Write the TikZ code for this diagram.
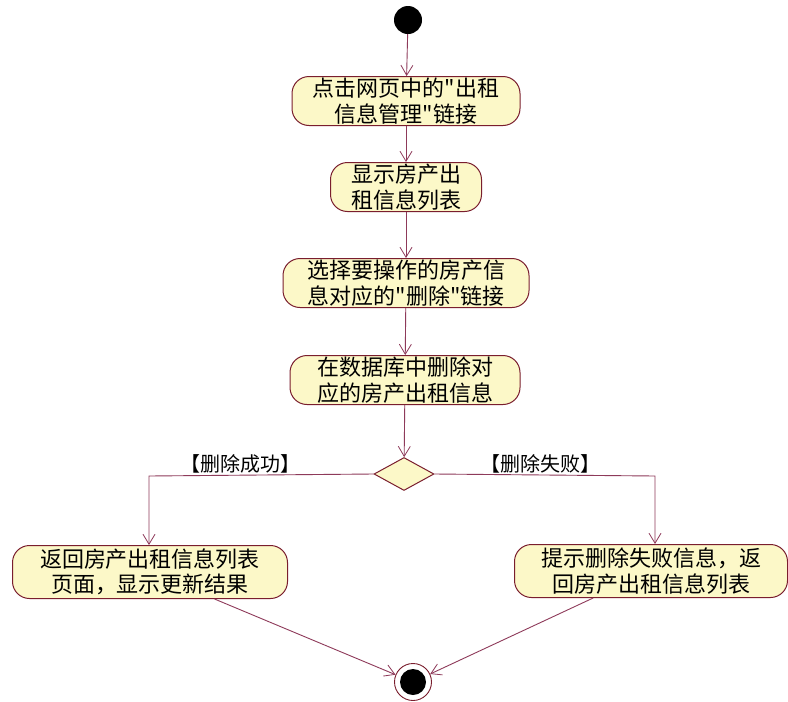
\documentclass[tikz,border=0pt]{standalone}
\usepackage{fontspec}
\newfontfamily\cjk{Noto Sans CJK SC}
\usetikzlibrary{arrows.meta,shapes.geometric}
\definecolor{actfill}{HTML}{FCF8C8}
\definecolor{actline}{HTML}{7A1E2E}
\definecolor{flow}{HTML}{8E3A5A}
\tikzset{
  act/.style={draw=actline, line width=1pt, fill=actfill, rounded corners=17pt,
    minimum height=49pt, inner xsep=8pt, inner ysep=1pt, align=center,
    font=\cjk\fontsize{22}{25.5}\selectfont},
  flowline/.style={draw=flow, line width=0.9pt, -{Straight Barb[length=10pt,width=12pt,line width=0.8pt]}},
  guard/.style={font=\cjk\fontsize{20}{22}\selectfont, inner sep=1pt}
}
\begin{document}
\begin{tikzpicture}[x=1pt,y=-1pt]
\useasboundingbox[fill=white] (0,0) rectangle (788,702);
\node[circle, fill=black, minimum size=28pt, inner sep=0pt] (start) at (408,20) {};
\node[act, minimum width=228pt] (a1) at (406,101) {点击网页中的"出租\\信息管理"链接};
\node[act, minimum width=151pt] (a2) at (406,187) {显示房产出\\租信息列表};
\node[act, minimum width=246pt] (a3) at (406,283) {选择要操作的房产信\\息对应的"删除"链接};
\node[act, minimum width=230pt] (a4) at (405,380) {在数据库中删除对\\应的房产出租信息};
\node[diamond, draw=actline, line width=1pt, fill=actfill, minimum width=60pt, minimum height=33pt, inner sep=0pt] (d) at (404,474) {};
\node[act, minimum width=275pt, minimum height=53pt] (a5) at (150,572) {返回房产出租信息列表\\页面，显示更新结果};
\node[act, minimum width=273pt, minimum height=53pt] (a6) at (651,571) {提示删除失败信息，返\\回房产出租信息列表};
\node[circle, draw=actline, line width=0.9pt, fill=white, minimum size=37pt, inner sep=0pt] (end) at (413,682) {};
\node[circle, fill=black, minimum size=26pt, inner sep=0pt] at (end) {};
\coordinate (cl) at (149,476);
\coordinate (cr) at (655,476);
\draw[flowline] (start) -- (a1);
\draw[flowline] (a1) -- (a2);
\draw[flowline] (a2) -- (a3);
\draw[flowline] (a3) -- (a4);
\draw[flowline] (a4) -- (d);
\draw[flowline] (d.west) -- (cl) -- (a5.north -| cl);
\draw[flowline] (d.east) -- (cr) -- (a6.north -| cr);
\draw[flowline] (a5) -- (end);
\draw[flowline] (a6) -- (end);
\node[guard, anchor=south] (g1) at (240,474) {【删除成功】};
\node[guard, anchor=south] (g2) at (540,474) {【删除失败】};
\end{tikzpicture}
\end{document}
